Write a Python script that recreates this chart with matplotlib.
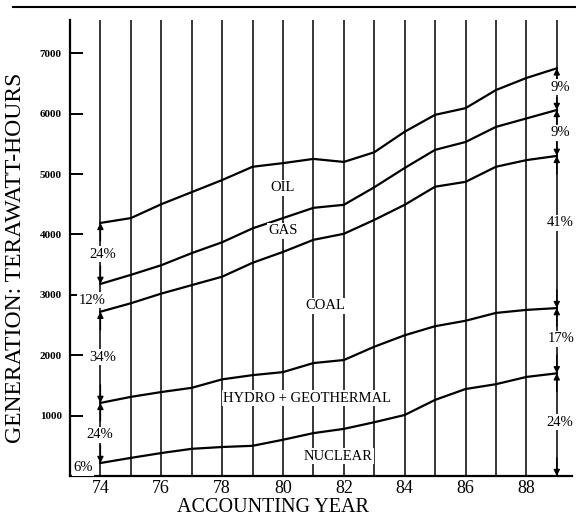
import matplotlib
matplotlib.use("Agg")
import matplotlib.pyplot as plt
from matplotlib.lines import Line2D

plt.rcParams['font.family'] = ['Liberation Serif', 'DejaVu Serif']

years = [74, 75, 76, 77, 78, 79, 80, 81, 82, 83, 84, 85, 86, 87, 88, 89]
# cumulative totals (TWh), top of each band
nuclear_top = [215, 300, 380, 450, 480, 500, 600, 710, 780, 890, 1010, 1260, 1440, 1520, 1640, 1700]
hydro_top = [1210, 1310, 1390, 1460, 1600, 1670, 1720, 1870, 1920, 2140, 2330, 2480, 2570, 2700, 2750, 2780]
coal_top = [2720, 2860, 3020, 3160, 3300, 3530, 3710, 3910, 4010, 4240, 4490, 4790, 4870, 5120, 5230, 5300]
gas_top = [3180, 3330, 3490, 3690, 3870, 4100, 4270, 4440, 4490, 4780, 5100, 5400, 5530, 5780, 5920, 6060]
oil_top = [4190, 4270, 4500, 4700, 4900, 5120, 5180, 5250, 5200, 5360, 5700, 5980, 6090, 6390, 6590, 6750]

band_names = ["OIL", "GAS", "COAL", "HYDRO + GEOTHERMAL", "NUCLEAR"]
share_1974 = ["24%", "12%", "34%", "24%", "6%"]
share_1989 = ["9%", "9%", "41%", "17%", "24%"]

yticks = [1000, 2000, 3000, 4000, 5000, 6000, 7000]
xticks = [74, 76, 78, 80, 82, 84, 86, 88]

fig = plt.figure(figsize=(5.76, 5.19), dpi=100)
ax = fig.add_axes([70/576, 43/519, 502/576, 456/519])
ax.set_xlim(73.0, 89.5)
ax.set_ylim(0, 7550)

# vertical year lines
for yr in years:
    ax.axvline(yr, color='black', lw=1.1, zorder=1)

for series in [nuclear_top, hydro_top, coal_top, gas_top, oil_top]:
    ax.plot(years, series, color='black', lw=1.6, zorder=3)

ax.spines['top'].set_visible(False)
ax.spines['right'].set_visible(False)
ax.spines['left'].set_linewidth(1.6)
ax.spines['bottom'].set_linewidth(1.6)

ax.set_yticks(yticks)
ax.set_yticklabels([str(v) for v in yticks], fontsize=8, fontweight='bold')
ax.tick_params(axis='y', direction='in', length=9, width=1.4, pad=6)
ax.set_xticks(xticks)
ax.set_xticklabels([str(v) for v in xticks], fontsize=13)
ax.tick_params(axis='x', length=0, pad=3)

# band labels
box = dict(facecolor='white', edgecolor='none', pad=1)
ax.text(80.0, 4770, band_names[0], ha='center', va='center', fontsize=10.5, bbox=box, zorder=4)
ax.text(80.0, 4060, band_names[1], ha='center', va='center', fontsize=10.5, bbox=box, zorder=4)
ax.text(81.4, 2820, band_names[2], ha='center', va='center', fontsize=10.5, bbox=box, zorder=4)
ax.text(80.8, 1290, band_names[3], ha='center', va='center', fontsize=10.5, bbox=box, zorder=4)
ax.text(81.8, 330, band_names[4], ha='center', va='center', fontsize=10.5, bbox=box, zorder=4)

def bracket(x, lo, hi, label, ty, tx, arrows=True):
    if arrows:
        span = hi - lo
        d = min(300, span * 0.3)
        for end, start in [(hi, hi - d), (lo, lo + d)]:
            ax.annotate('', xy=(x, end), xytext=(x, start),
                        arrowprops=dict(arrowstyle='-|>', color='black', lw=1.0,
                                        mutation_scale=9, shrinkA=0, shrinkB=0),
                        zorder=5)
    ax.text(tx, ty, label, ha='center', va='center', fontsize=10.5, bbox=box, zorder=6)

# 1974 shares
bracket(74, gas_top[0], oil_top[0], share_1974[0], 3675, 74.07)
bracket(74, coal_top[0], gas_top[0], share_1974[1], 2910, 73.72, arrows=False)
bracket(74, hydro_top[0], coal_top[0], share_1974[2], 1970, 74.07)
bracket(74, nuclear_top[0], hydro_top[0], share_1974[3], 680, 73.97)
bracket(74, 0, nuclear_top[0], share_1974[4], 140, 73.42, arrows=False)

# 1989 shares
bracket(89, gas_top[-1], oil_top[-1], share_1989[0], 6440, 89.1)
bracket(89, coal_top[-1], gas_top[-1], share_1989[1], 5680, 89.1)
bracket(89, hydro_top[-1], coal_top[-1], share_1989[2], 4190, 89.1)
bracket(89, nuclear_top[-1], hydro_top[-1], share_1989[3], 2270, 89.15)
bracket(89, 0, nuclear_top[-1], share_1989[4], 890, 89.1)

fig.text(16/576, 1 - 258/519, "GENERATION: TERAWATT-HOURS", rotation=90,
         ha='center', va='center', fontsize=17)
fig.text(273/576, 1 - 508/519, "ACCOUNTING YEAR", ha='center', va='center', fontsize=14.5)

# top page rule
fig.add_artist(Line2D([13/576, 1.0], [1 - 7/519, 1 - 7/519], color='black', lw=1.5,
                      transform=fig.transFigure))

fig.savefig("out.png", dpi=100, facecolor='white')
